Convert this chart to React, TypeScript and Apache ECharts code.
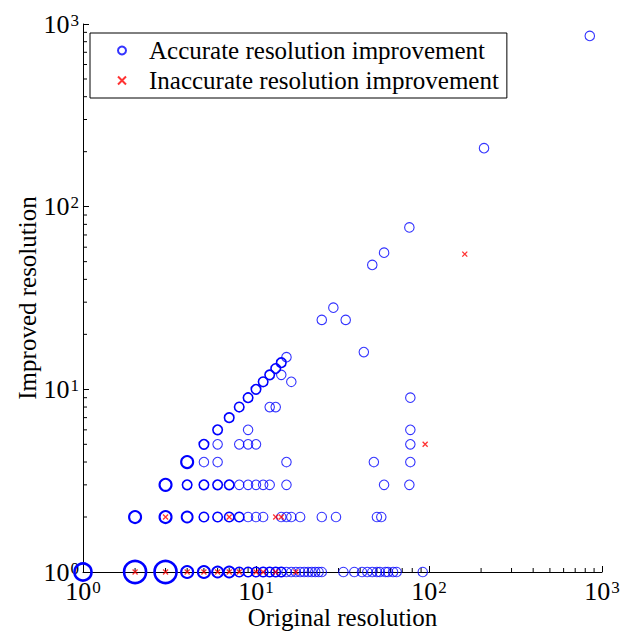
import { useEffect, useRef } from "react";
import * as echarts from "echarts";

// [original, improved, cases] — cases drives the marker weight
const accuratePoints: [number, number, number][] = [
  [1, 1, 16], [2, 1, 64], [3, 1, 64], [4, 1, 4], [5, 1, 4], [6, 1, 3], [7, 1, 3],
  [8, 1, 2], [9, 1, 2], [10, 1, 2], [11, 1, 2], [12, 1, 2], [13, 1, 2], [14, 1, 2],
  [15, 1, 1], [16, 1, 1], [17, 1, 1], [18, 1, 1], [19, 1, 1], [20, 1, 1], [21, 1, 1],
  [22, 1, 1], [23, 1, 1], [24, 1, 1], [32, 1, 1], [37, 1, 1], [41, 1, 1], [44, 1, 1],
  [47, 1, 1], [50, 1, 1], [52, 1, 1], [56, 1, 1], [58, 1, 1], [62, 1, 1], [65, 1, 1],
  [92, 1, 1],
  [2, 2, 4], [3, 2, 4], [4, 2, 3], [5, 2, 2], [6, 2, 2], [7, 2, 2], [8, 2, 2],
  [9, 2, 1], [10, 2, 1], [11, 2, 1], [14, 2, 1], [15, 2, 1], [16, 2, 1], [18, 2, 1],
  [24, 2, 1], [29, 2, 1], [50, 2, 1], [53, 2, 1],
  [3, 3, 4], [4, 3, 2], [5, 3, 2], [6, 3, 2], [7, 3, 2], [8, 3, 1], [9, 3, 1],
  [10, 3, 1], [11, 3, 1], [12, 3, 1], [15, 3, 1], [55, 3, 1], [77, 3, 1],
  [4, 4, 4], [5, 4, 1], [6, 4, 1], [15, 4, 1], [48, 4, 1], [78, 4, 1],
  [5, 5, 2], [6, 5, 1], [8, 5, 1], [9, 5, 1], [10, 5, 1], [78, 5, 1],
  [6, 6, 2], [9, 6, 1], [78, 6, 1],
  [7, 7, 2],
  [8, 8, 2], [12, 8, 1], [13, 8, 1],
  [9, 9, 2], [78, 9, 1],
  [10, 10, 2],
  [11, 11, 2], [16, 11, 1],
  [12, 12, 2], [14, 12, 1],
  [13, 13, 2],
  [14, 14, 2],
  [15, 15, 1],
  [42, 16, 1], [24, 24, 1], [33, 24, 1], [28, 28, 1], [47, 48, 1], [55, 56, 1],
  [77, 77, 1], [208, 209, 1], [850, 860, 1],
];

const inaccuratePoints: [number, number][] = [
  [2, 1], [3, 1], [4, 1], [5, 1], [6, 1], [7, 1], [8, 1], [10, 1], [11, 1], [13, 1], [17, 1],
  [3, 2], [7, 2], [13, 2], [14, 2],
  [95, 5], [161, 55],
];

const decades = [1, 10, 100, 1000];
const minorTickValues = [2, 3, 4, 5, 6, 7, 8, 9, 20, 30, 40, 50, 60, 70, 80, 90, 200, 300, 400, 500, 600, 700, 800, 900];

const seriesNames = ["Accurate resolution improvement", "Inaccurate resolution improvement"];
const axisNames = { x: "Original resolution", y: "Improved resolution" };

const FONT = "'Liberation Serif', 'Times New Roman', Times, serif";
const BLUE = "#0000ff";
const RED = "#ff0000";
const CROSS = "path://M0,0L10,10M10,0L0,10";

const markerSize = (n: number) => 9.5 + 2.5 * Math.max(0, Math.log2(n) - 1);
const markerLine = (n: number) => 1.1 + 0.5 * Math.min(Math.log2(n), 3);

const powerLabel = (v: number) => `{b|10}{s|${Math.round(Math.log10(v))}}`;
const labelRich = {
  b: { fontFamily: FONT, fontSize: 26, lineHeight: 25, color: "#000" },
  s: { fontFamily: FONT, fontSize: 17, color: "#000", verticalAlign: "top" as const, padding: [0, 0, 8, 1] },
};

export default function App() {
  const ref = useRef<HTMLDivElement>(null);

  useEffect(() => {
    if (!ref.current) return;
    document.body.style.margin = "0";
    const chart = echarts.init(ref.current, undefined, { renderer: "svg" });

    // minor ticks at 2..9 of each decade, drawn inward along both axes
    const minorTick = (axis: "x" | "y") => ({
      type: "custom" as const,
      silent: true,
      clip: false,
      z: 1,
      data: minorTickValues.map((v) => [v]),
      renderItem: (_p: any, api: any) => {
        const v = api.value(0);
        const p = axis === "x" ? api.coord([v, decades[0]]) : api.coord([decades[0], v]);
        const shape =
          axis === "x"
            ? { x1: p[0], y1: p[1], x2: p[0], y2: p[1] - 4 }
            : { x1: p[0], y1: p[1], x2: p[0] + 4, y2: p[1] };
        return { type: "line", shape, style: { stroke: "#000", lineWidth: 1 } };
      },
    });

    chart.setOption({
      animation: false,
      backgroundColor: "#fff",
      grid: { left: 83, right: 18, top: 24, bottom: 61, containLabel: false, outerBoundsMode: "none" },
      xAxis: {
        type: "log",
        logBase: 10,
        min: decades[0],
        max: decades[decades.length - 1],
        name: axisNames.x,
        nameLocation: "middle",
        nameGap: 33,
        nameMoveOverlap: false,
        nameTextStyle: { fontFamily: FONT, fontSize: 25, lineHeight: 24, color: "#000" },
        axisLine: { lineStyle: { color: "#000", width: 1 } },
        axisTick: { inside: true, length: 6, lineStyle: { color: "#000" } },
        splitLine: { show: false },
        axisLabel: { formatter: powerLabel, rich: labelRich, margin: 7, hideOverlap: false },
      },
      yAxis: {
        type: "log",
        logBase: 10,
        min: decades[0],
        max: decades[decades.length - 1],
        name: axisNames.y,
        nameLocation: "middle",
        nameGap: 43,
        nameMoveOverlap: false,
        nameTextStyle: { fontFamily: FONT, fontSize: 25, color: "#000" },
        axisLine: { lineStyle: { color: "#000", width: 1 } },
        axisTick: { inside: true, length: 6, lineStyle: { color: "#000" } },
        splitLine: { show: false },
        axisLabel: { formatter: powerLabel, rich: labelRich, margin: 4, hideOverlap: false },
      },
      legend: {
        data: [
          { name: seriesNames[0], icon: "circle" },
          { name: seriesNames[1], icon: CROSS },
        ],
        orient: "vertical",
        left: 90,
        top: 33,
        backgroundColor: "#fff",
        borderColor: "#000",
        borderWidth: 1,
        borderRadius: 0,
        padding: [5, 8, 5, 27],
        itemGap: 5,
        itemWidth: 8,
        itemHeight: 8,
        selectedMode: false,
        textStyle: { fontFamily: FONT, fontSize: 25, color: "#000", padding: [0, 0, 0, 18] },
      },
      series: [
        {
          name: seriesNames[0],
          type: "scatter",
          symbol: "circle",
          z: 3,
          itemStyle: { color: "rgba(0,0,0,0)", borderColor: BLUE, borderWidth: 1.1 },
          data: accuratePoints.map(([x, y, n]) => ({
            value: [x, y],
            symbolSize: markerSize(n),
            itemStyle: { borderWidth: markerLine(n), opacity: n === 1 ? 0.8 : 1 },
          })),
        },
        {
          name: seriesNames[1],
          type: "scatter",
          symbol: CROSS,
          symbolSize: 5,
          z: 4,
          itemStyle: { color: "rgba(0,0,0,0)", borderColor: RED, borderWidth: 1.3 },
          data: inaccuratePoints,
        },
        minorTick("x"),
        minorTick("y"),
      ],
    });

    return () => chart.dispose();
  }, []);

  return <div ref={ref} style={{ width: 620, height: 633 }} />;
}
